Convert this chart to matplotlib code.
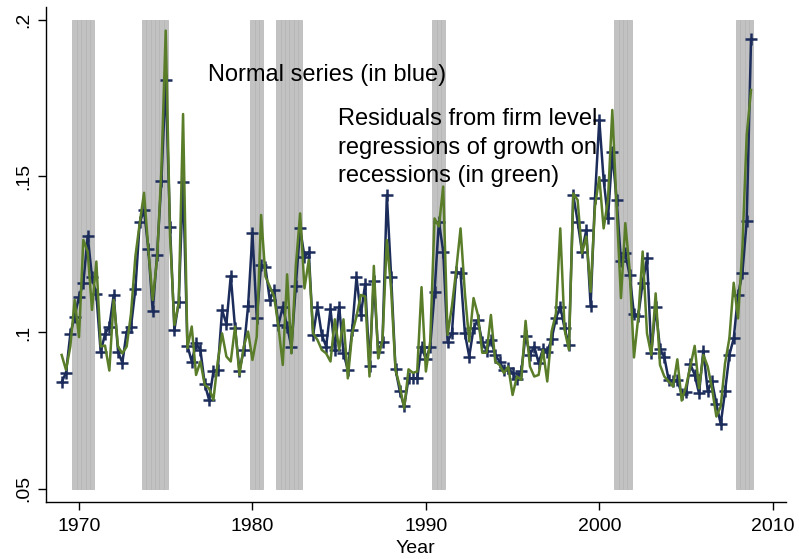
import numpy as np
import matplotlib
matplotlib.use("Agg")
import matplotlib.pyplot as plt

plt.rcParams['font.family'] = ['Liberation Sans', 'DejaVu Sans']

# Quarterly observations, 1969Q1 - 2008Q4
quarters = np.arange(1969, 2009, 0.25)

# Normal series (blue)
normal = [
    .0841, .0871, .0995, .1051, .1115, .1157, .1309, .1177, .1122, .0937,
    .0995, .1019, .1120, .0939, .0903, .1003, .1019, .1138, .1352, .1392,
    .1266, .1069, .1248, .1485, .1808, .1337, .1008, .1097, .1483, .0958,
    .0907, .0965, .0944, .0835, .0784, .0875, .0880, .1072, .1027, .1181,
    .1013, .0878, .0944, .1085, .1317, .1047, .1216, .1209, .1104, .1136,
    .1024, .1083, .1019, .0953, .1149, .1333, .1243, .1257, .0992, .1083,
    .0992, .0955, .1075, .0944, .1083, .0935, .0880, .1008, .1177, .1056,
    .1155, .0893, .1166, .0939, .0971, .1440, .1177, .0882, .0811, .0763,
    .0853, .0853, .0853, .0955, .0914, .0955, .1128, .1355, .1259, .0971,
    .0997, .1193, .1190, .0997, .0923, .1013, .1040, .0968, .0942, .0976,
    .0928, .0907, .0880, .0885, .0870, .0850, .0875, .0990, .0928, .0955,
    .0903, .0946, .0939, .0978, .1045, .1083, .1013, .0960, .1440, .1355,
    .1259, .1328, .1085, .1430, .1680, .1488, .1365, .1577, .1424, .1229,
    .1253, .1184, .1058, .1053, .1159, .1237, .0935, .1081, .0947, .0921,
    .0848, .0843, .0848, .0803, .0809, .0899, .0864, .0805, .0942, .0813,
    .0843, .0771, .0707, .0811, .0928, .0981, .1120, .1190, .1357, .1939,
]

# Residuals from firm level regressions on recessions (green)
residuals = [
    .0928, .0880, .0955, .1104, .0985, .1296, .1259, .1072, .1227, .0955,
    .0958, .0878, .1104, .0955, .0933, .0955, .1061, .1243, .1349, .1447,
    .1264, .1104, .1235, .1520, .1966, .1307, .1024, .1094, .1699, .0950,
    .1019, .0864, .0907, .0832, .0821, .0784, .0907, .0997, .0923, .0907,
    .1019, .0864, .0955, .1003, .0912, .0987, .1376, .1179, .1147, .1115,
    .1019, .0896, .1186, .0933, .1211, .1381, .1141, .1232, .0997, .0976,
    .0944, .0933, .0907, .1042, .0944, .1042, .0853, .0997, .1051, .1120,
    .1115, .0859, .1213, .0917, .0976, .1296, .1136, .0880, .0827, .0757,
    .0882, .0871, .0875, .1145, .0875, .0971, .1365, .1339, .1467, .0992,
    .1083, .1200, .1333, .1126, .0971, .1110, .1056, .0935, .0935, .1056,
    .0907, .0896, .0870, .0891, .0800, .0859, .0848, .1037, .0891, .0859,
    .0864, .0944, .0843, .1003, .1061, .1333, .1008, .0944, .1445, .1424,
    .1253, .1307, .1130, .1403, .1497, .1333, .1424, .1712, .1400, .1110,
    .1350, .1200, .0920, .1051, .1259, .0997, .0928, .1125, .0896, .0859,
    .0843, .0827, .0914, .0782, .0827, .0891, .0957, .0821, .0928, .0891,
    .0821, .0731, .0763, .0901, .0981, .1159, .1045, .1270, .1632, .1776,
]

# NBER recessions: first and last quarter of each
recessions = [(1969.75, 1970.75), (1973.75, 1975.0), (1980.0, 1980.5),
              (1981.5, 1982.75), (1990.5, 1991.0), (2001.0, 2001.75),
              (2008.0, 2008.75)]

xticks = [1970, 1980, 1990, 2000, 2010]
yticks = [.05, .1, .15, .2]
ytick_labels = ['.05', '.1', '.15', '.2']

blue = '#1c2d5c'
green = '#5a7d2a'

fig = plt.figure(figsize=(7.99, 5.59), dpi=100)
ax = fig.add_axes([0.0572, 0.1020, 0.9262, 0.8855])

# shaded recession quarters
for start, end in recessions:
    q = np.arange(start, end + 0.01, 0.25)
    ax.bar(q, 0.15, bottom=0.05, width=0.25, color='#c2c2c2',
           edgecolor='#b4b4b4', linewidth=0.5, zorder=1)

ax.plot(quarters, normal, color=blue, lw=1.8, marker='+', ms=9, mew=1.8,
        zorder=2)
ax.plot(quarters, residuals, color=green, lw=1.8, zorder=3)

ax.text(1977.44, 0.1824, 'Normal series (in blue)', fontsize=17,
        va='center', ha='left')
ax.text(1984.93, 0.1591,
        'Residuals from firm level\nregressions of growth on\nrecessions (in green)',
        fontsize=17, va='center', ha='left', linespacing=1.37)

ax.set_xlim(1968.08, 2010.75)
ax.set_ylim(0.04574, 0.20416)
ax.set_xticks(xticks)
ax.set_yticks(yticks)
ax.set_yticklabels(ytick_labels, rotation=90, va='center')
ax.tick_params(labelsize=14, length=5.8, width=1, color='black')
ax.tick_params(axis='x', pad=6)
ax.tick_params(axis='y', pad=4)
ax.set_xlabel('Year', fontsize=14, labelpad=3)

for side in ['top', 'right']:
    ax.spines[side].set_visible(False)
ax.spines['left'].set_linewidth(1)
ax.spines['bottom'].set_linewidth(1)

fig.savefig('out.png', dpi=100)
